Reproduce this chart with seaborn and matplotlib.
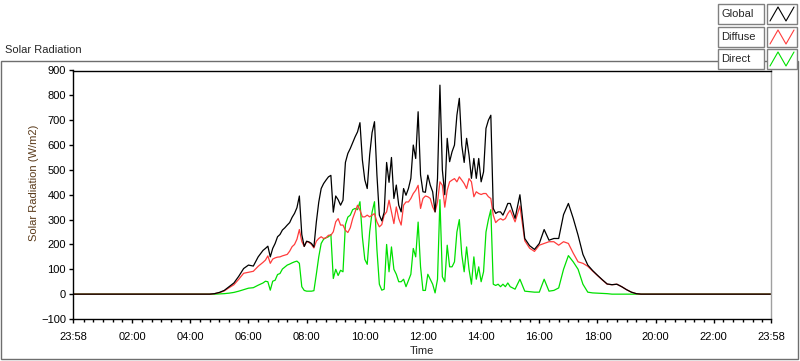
import numpy as np
import pandas as pd
import matplotlib
matplotlib.use("Agg")
import matplotlib.pyplot as plt
from matplotlib.patches import Rectangle
from matplotlib.lines import Line2D
from matplotlib.ticker import FixedLocator
import seaborn as sns

# sample times (minutes after midnight): 10 min steps, 5 min through midday, 10 min in the evening
minutes = np.concatenate([np.arange(280, 391, 10), np.arange(395, 901, 5), np.arange(910, 1191, 10)])

global_rad = [
    0, 2, 7, 15, 30, 45, 72, 103, 117, 113, 150, 176,
    184, 193, 150, 184, 204, 231, 240, 258, 267, 278, 288, 309, 325, 348, 395, 240, 192,
    213, 210, 204, 190, 290, 370, 425, 445, 459, 472, 478, 330,
    395, 380, 358, 378, 530, 566, 586, 610, 633, 653, 690, 540,
    460, 425, 560, 650, 694, 480, 318, 295, 330, 530, 450, 550,
    385, 439, 358, 331, 425, 398, 425, 466, 600, 546, 734, 480,
    412, 410, 479, 439, 412, 331, 466, 841, 500, 400, 627, 533,
    573, 600, 720, 788, 600, 530, 627, 560, 466, 546, 466, 546,
    452, 492, 667, 700, 720, 345, 325, 331, 331, 318, 340, 365,
    365,
    305, 400, 224, 195, 180, 204, 260, 217, 224, 224, 320, 365, 305, 237, 160,
    117, 95, 76, 58, 41, 38, 40, 30, 18, 8, 2, 0, 0, 0,
]

diffuse_rad = [
    0, 2, 6, 13, 26, 38, 60, 84, 88, 92, 112, 128,
    137, 154, 124, 141, 146, 149, 150, 154, 157, 160, 173, 191, 200, 221, 260, 212, 192,
    212, 208, 200, 186, 213, 224, 231, 224, 227, 237, 237, 251,
    291, 304, 278, 278, 257, 248, 267, 304, 331, 358, 338, 311,
    311, 318, 311, 318, 324, 291, 271, 280, 318, 331, 378, 331,
    284, 351, 304, 278, 358, 371, 371, 385, 405, 418, 438, 345,
    385, 395, 392, 385, 351, 331, 371, 452, 438, 350, 418, 452,
    459, 465, 452, 472, 459, 445, 425, 465, 452, 392, 412, 405,
    401, 405, 405, 392, 385, 318, 288, 298, 304, 298, 304, 324,
    338,
    291, 355, 215, 185, 172, 197, 204, 211, 211, 197, 211, 204, 165, 130, 124,
    112, 93, 75, 57, 40, 38, 40, 30, 18, 8, 2, 0, 0, 0,
]

direct_rad = [
    0, 0, 1, 2, 4, 7, 12, 18, 24, 26, 36, 45,
    52, 50, 16, 52, 56, 79, 83, 101, 109, 117, 121, 126, 130, 133, 124, 30, 15,
    12, 12, 12, 14, 80, 150, 204, 221, 227, 231, 240, 63,
    100, 75, 96, 90, 280, 310, 318, 340, 345, 340, 372, 230,
    140, 120, 250, 330, 372, 180, 40, 16, 20, 200, 90, 190,
    100, 80, 50, 50, 60, 30, 55, 80, 184, 150, 290, 110,
    15, 15, 80, 60, 40, 5, 60, 380, 70, 50, 197, 110,
    110, 130, 250, 300, 160, 90, 190, 100, 40, 150, 60, 110,
    50, 90, 250, 300, 340, 40, 35, 40, 30, 40, 30, 45,
    30,
    20, 60, 12, 10, 8, 8, 60, 12, 15, 25, 100, 155, 130, 100, 40,
    8, 5, 4, 3, 2, 0, 0, 0, 0, 0, 0, 0, 0, 0,
]

series_names = ["Direct", "Diffuse", "Global"]
series_colors = {"Global": "#000000", "Diffuse": "#ff3c3c", "Direct": "#00e000"}

start, end = -2 / 60, 24 - 2 / 60
tick_pos = [start] + list(range(2, 23, 2)) + [end]
tick_labels = ["23:58", "02:00", "04:00", "06:00", "08:00", "10:00", "12:00",
               "14:00", "16:00", "18:00", "20:00", "22:00", "23:58"]
y_ticks = list(range(-100, 901, 100))

# long table, padded with zeros at the start and end of the day
hours = np.r_[start, minutes / 60, end]
frames = []
for name, vals in [("Direct", direct_rad), ("Diffuse", diffuse_rad), ("Global", global_rad)]:
    frames.append(pd.DataFrame({"Time": hours, "Radiation": np.r_[0, vals, 0], "Series": name}))
df = pd.concat(frames, ignore_index=True)

sns.set_theme(style="ticks")
plt.rcParams["font.family"] = ["Liberation Sans", "DejaVu Sans"]
plt.rcParams["font.size"] = 8

W, H = 800, 361
fig = plt.figure(figsize=(W / 100, H / 100), dpi=100)
fig.patch.set_facecolor("white")


def fx(px):
    return px / W


def fy(py):
    return 1 - py / H


# outer frame of the panel
fig.add_artist(Rectangle((fx(1), fy(359)), fx(797), (359 - 61) / H, transform=fig.transFigure,
                         fill=False, edgecolor="#6e6e6e", linewidth=1, zorder=1))
fig.text(fx(5), fy(50), "Solar Radiation", fontsize=8, va="center", ha="left")

ax = fig.add_axes([fx(73), 42 / H, 698 / W, 248.5 / H])
sns.lineplot(data=df, x="Time", y="Radiation", hue="Series", hue_order=series_names,
             palette=series_colors, estimator=None, linewidth=0.9, legend=False, ax=ax)

ax.set_xlim(start, end)
ax.set_ylim(-100, 900)
ax.set_xticks(tick_pos)
ax.set_xticklabels(tick_labels)
minor = [m / 3 for m in range(1, 72) if m % 6 != 0]
ax.xaxis.set_minor_locator(FixedLocator(minor))
ax.set_yticks(y_ticks)
ax.tick_params(axis="both", which="major", direction="out", length=3, width=1,
               labelsize=8, colors="black")
ax.tick_params(axis="x", which="major", pad=6)
ax.tick_params(axis="y", which="major", pad=2)
ax.tick_params(axis="x", which="minor", direction="out", length=2, width=1, color="black")
for side in ["left", "bottom", "top"]:
    ax.spines[side].set_color("black")
    ax.spines[side].set_linewidth(1)
ax.spines["right"].set_color("#a0a0a0")
ax.spines["right"].set_linewidth(1)

ax.set_xlabel("Time", fontsize=8, labelpad=3)
ax.set_ylabel("Solar Radiation (W/m2)", fontsize=8, color="#5a3a1a")
ax.yaxis.set_label_coords(-0.049, 0.548)

# legend boxes at top right
rows = [("Global", 4, 24), ("Diffuse", 27, 47), ("Direct", 49, 69)]
for name, top, bot in rows:
    fig.add_artist(Rectangle((fx(718), fy(bot)), fx(764 - 718), (bot - top) / H,
                             transform=fig.transFigure, facecolor="white",
                             edgecolor="#808080", linewidth=1, zorder=5))
    fig.text(fx(721), fy((top + bot) / 2), name, fontsize=8, va="center", ha="left", zorder=6)
    fig.add_artist(Rectangle((fx(767), fy(bot)), fx(797 - 767), (bot - top) / H,
                             transform=fig.transFigure, facecolor="white",
                             edgecolor="#808080", linewidth=1, zorder=5))
    zx = [770, 778, 786, 794]
    zy = [bot - 3, top + 3, bot - 3, top + 3]
    fig.add_artist(Line2D([fx(v) for v in zx], [fy(v) for v in zy], transform=fig.transFigure,
                          color=series_colors[name], linewidth=0.8, zorder=6))

fig.savefig("out.png", dpi=100)
